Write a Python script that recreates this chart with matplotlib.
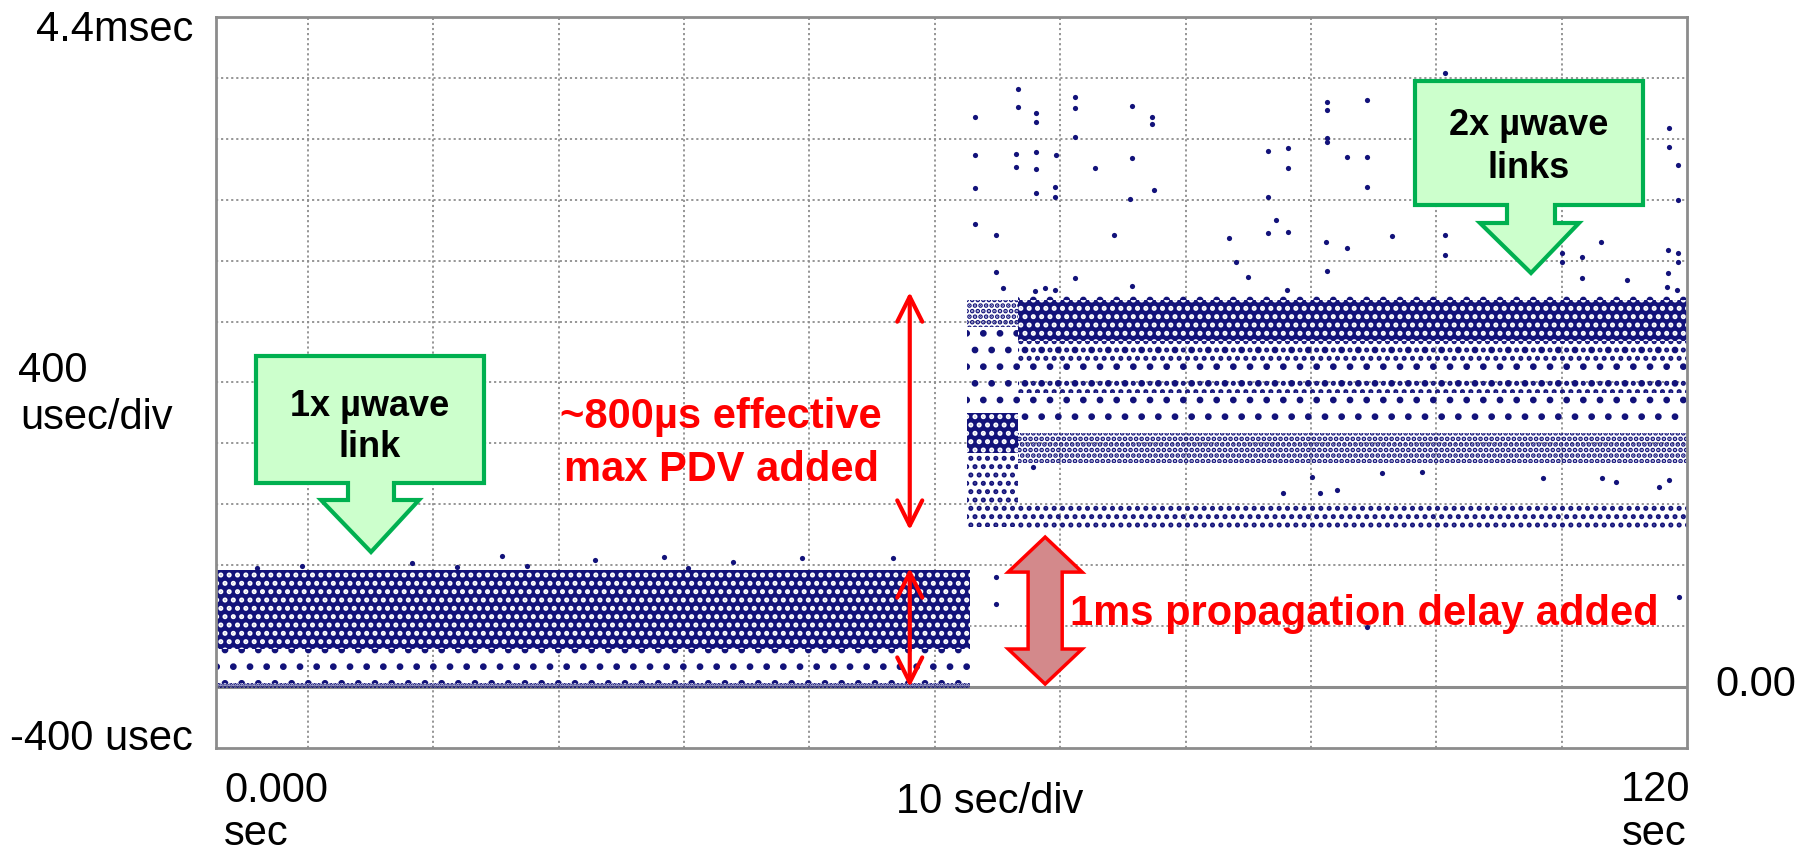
import matplotlib
matplotlib.use("Agg")
import matplotlib.pyplot as plt
from matplotlib.patches import Polygon, FancyArrowPatch

plt.rcParams["font.family"] = ["Liberation Sans", "DejaVu Sans"]
plt.rcParams["hatch.linewidth"] = 2.4

W, H = 1810, 855
NAVY = "#12127a"

# ---------------- axis (seconds / microseconds) ----------------
x_limits = [2.66, 120.0]
y_limits = [-400, 4400]
x_grid_sec = [10, 20, 30, 40, 50, 60, 70, 80, 90, 100, 110]
y_grid_usec = [0, 400, 800, 1200, 1600, 2000, 2400, 2800, 3200, 3600, 4000]

# ---------------- dense delay bands ----------------
band_start = [2.66, 2.66, 2.66, 62.6, 62.6, 62.6, 62.6,
              66.6, 66.6, 66.6, 66.6, 66.6, 66.6, 66.6]
band_end   = [62.8, 62.8, 62.8, 66.6, 66.6, 66.6, 66.6,
              120.0, 120.0, 120.0, 120.0, 120.0, 120.0, 120.0]
band_low   = [250, 30, -5, 2364, 1819, 1537, 1051,
              2270, 2540, 1700, 2120, 1930, 1470, 1030]
band_high  = [770, 250, 25, 2542, 2364, 1800, 1537,
              2540, 2600, 2270, 2270, 2020, 1670, 1210]
band_kind  = ["solid", "sparse", "row", "medium", "sparse", "solid", "light",
              "solid", "sparse", "sparse", "light", "light", "medium", "light"]

# ---------------- individual packets (outliers) ----------------
out_t = [63.2, 66.6, 66.6, 68.1, 68.1, 71.2, 71.2, 71.2, 75.7, 77.3, 77.3,
         63.2, 66.5, 66.5, 68.1, 68.1, 69.7, 72.8, 75.7,
         63.2, 68.1, 69.6, 69.6, 75.6, 77.5,
         63.2, 64.9, 74.3, 64.9, 65.4, 68.0, 68.8, 69.6, 71.2, 75.7,
         83.5, 84.0, 85.0, 86.6, 88.2, 88.2, 86.6, 87.2, 86.6, 88.2, 88.1,
         91.3, 91.3, 91.3, 91.3, 94.5, 92.9, 94.5, 94.5, 91.2, 92.9, 96.5, 91.3,
         100.7, 118.6, 118.6, 119.3, 119.3, 100.7, 100.7, 113.1, 111.6, 110.0, 110.0,
         118.5, 119.3, 119.3, 111.6, 115.2, 118.5, 118.4, 119.2,
         90.1, 90.7, 92.1, 87.8, 95.7, 98.9, 67.8, 108.5, 113.2, 114.3, 117.8, 118.6,
         25.5, 32.9, 38.4, 18.3, 9.5, 5.9, 27.5, 43.9, 49.4, 56.7, 40.3, 21.9,
         64.9, 64.9, 119.4, 94.5]
out_us = [3744, 3928, 3810, 3770, 3711, 3875, 3803, 3612, 3816, 3744, 3698,
          3494, 3501, 3415, 3514, 3402, 3494, 3409, 3474,
          3277, 3245, 3284, 3218, 3205, 3264,
          3041, 2969, 2969, 2726, 2621, 2600, 2620, 2607, 2686, 2634,
          2949, 2791, 2693, 3520, 3540, 3409, 3218, 3067, 2982, 2988, 2607,
          3842, 3790, 3606, 3580, 3855, 3481, 3481, 3284, 2923, 2883, 2962, 2732,
          4033, 3671, 3547, 3428, 3199, 2969, 2837, 2923, 2824, 2850, 2791,
          2870, 2850, 2791, 2686, 2673, 2719, 2627, 2607,
          1379, 1274, 1294, 1274, 1405, 1412, 1445, 1373, 1373, 1346, 1314, 1360,
          860, 834, 854, 814, 795, 782, 795, 821, 847, 847, 782, 788,
          722, 545, 591, 394]

# ---------------- annotation values ----------------
pdv_arrow_t = 58.0
pdv_arrow_us = [1031, 2594]
phase1_arrow_us = [0, 782]
prop_arrow_t = 68.8
prop_arrow_us = [20, 985]

band_styles = {
    "solid":  dict(facecolor=NAVY, edgecolor="white", hatch=".."),
    "medium": dict(facecolor="none", edgecolor=NAVY, hatch="..."),
    "light":  dict(facecolor="none", edgecolor=NAVY, hatch=".."),
    "sparse": dict(facecolor="none", edgecolor=NAVY, hatch="."),
    "row":    dict(facecolor="none", edgecolor=NAVY, hatch="...."),
}

fig = plt.figure(figsize=(W / 100, H / 100), dpi=100)
fig.patch.set_facecolor("white")
ax = fig.add_axes([216 / W, 1 - 748 / H, (1687 - 216) / W, (748 - 17) / H])

ax.set_xlim(*x_limits)
ax.set_ylim(*y_limits)
ax.set_xticks(x_grid_sec)
ax.set_yticks(y_grid_usec)
ax.tick_params(length=0, labelbottom=False, labelleft=False)
ax.grid(True, color="#8e8e8e", linestyle=(0, (1.2, 1.6)), linewidth=1.3, zorder=0)
ax.set_axisbelow(True)
for s in ax.spines.values():
    s.set_color("#8c8c8c")
    s.set_linewidth(2)
ax.axhline(0, color="#8c8c8c", linewidth=2.2, zorder=1)

for t0, t1, lo, hi, kind in zip(band_start, band_end, band_low, band_high, band_kind):
    st = band_styles[kind]
    ax.fill_between([t0, t1], [lo, lo], [hi, hi], linewidth=0, zorder=2, **st)

ax.scatter(out_t, out_us, s=14, color=NAVY, linewidths=0, zorder=3)

# thin red double arrows
for ys in (pdv_arrow_us, phase1_arrow_us):
    ax.add_patch(FancyArrowPatch((pdv_arrow_t, ys[0]), (pdv_arrow_t, ys[1]),
                                 arrowstyle="<->,head_length=0.9,head_width=0.45",
                                 mutation_scale=20, color="#ff0000", lw=3,
                                 shrinkA=0, shrinkB=0, zorder=5, clip_on=False))

# fat double block arrow
cx, y0, y1 = prop_arrow_t, prop_arrow_us[0], prop_arrow_us[1]
hwh, hws, hl = 2.95, 1.36, 230
verts = [(cx, y1), (cx + hwh, y1 - hl), (cx + hws, y1 - hl), (cx + hws, y0 + hl),
         (cx + hwh, y0 + hl), (cx, y0), (cx - hwh, y0 + hl), (cx - hws, y0 + hl),
         (cx - hws, y1 - hl), (cx - hwh, y1 - hl)]
ax.add_patch(Polygon(verts, closed=True, facecolor="#d3898b", edgecolor="#ff0000",
                     linewidth=2.5, zorder=5, joinstyle="miter"))


def fx(px):
    return px / W


def fy(py):
    return 1 - py / H


def callout(x0, x1, ytop, ybot, s0, s1, sbot, h0, h1, tip_y):
    c = (s0 + s1) / 2
    pts = [(x0, ytop), (x1, ytop), (x1, ybot), (s1, ybot), (s1, sbot), (h1, sbot),
           (c, tip_y), (h0, sbot), (s0, sbot), (s0, ybot), (x0, ybot)]
    fig.add_artist(Polygon([(fx(a), fy(b)) for a, b in pts], closed=True,
                           transform=fig.transFigure, facecolor="#ccffcc",
                           edgecolor="#00b050", linewidth=3, joinstyle="miter"))


callout(256, 484, 356, 483, 348, 394, 500, 321, 419, 552)
callout(1415, 1643, 81, 205, 1507, 1555, 223, 1480, 1579, 273)

bold = dict(fontweight="bold", fontsize=26, ha="center", va="baseline", color="black")
fig.text(fx(370), fy(416), "1x \u00b5wave", **bold)
fig.text(fx(370), fy(457), "link", **bold)
fig.text(fx(1529), fy(135), "2x \u00b5wave", **bold)
fig.text(fx(1529), fy(178), "links", **bold)

red = dict(fontweight="bold", fontsize=30, va="baseline", color="#ff0000")
fig.text(fx(721), fy(428), "~800\u00b5s effective", ha="center", **red)
fig.text(fx(721), fy(481), "max PDV added", ha="center", **red)
fig.text(fx(1070), fy(625), "1ms propagation delay added", ha="left", **red)

lab = dict(fontsize=30, va="baseline", color="black")
fig.text(fx(193), fy(41), "4.4msec", ha="right", **lab)
fig.text(fx(18), fy(382), "400", ha="left", **lab)
fig.text(fx(20), fy(429), "usec/div", ha="left", **lab)
fig.text(fx(193), fy(750), "-400 usec", ha="right", **lab)
fig.text(fx(224), fy(802), "0.000", ha="left", **lab)
fig.text(fx(224), fy(845), "sec", ha="left", **lab)
fig.text(fx(990), fy(813), "10 sec/div", ha="center", **lab)
fig.text(fx(1690), fy(801), "120", ha="right", **lab)
fig.text(fx(1687), fy(845), "sec", ha="right", **lab)
fig.text(fx(1715), fy(696), "0.00", ha="left", **lab)

fig.savefig("out.png", dpi=100)
